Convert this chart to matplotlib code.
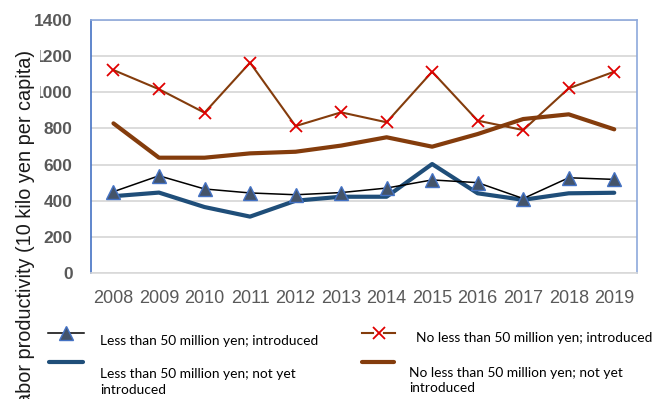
import matplotlib
matplotlib.use("Agg")
import matplotlib.pyplot as plt
from matplotlib.lines import Line2D

years = ["2008", "2009", "2010", "2011", "2012", "2013", "2014", "2015", "2016", "2017", "2018", "2019"]
small_introduced = [450, 538, 465, 443, 433, 445, 470, 515, 500, 412, 527, 518]
small_not_yet = [425, 445, 365, 312, 400, 422, 422, 603, 441, 405, 441, 444]
large_introduced = [1123, 1017, 887, 1164, 813, 889, 834, 1114, 843, 791, 1022, 1114]
large_not_yet = [828, 638, 638, 662, 671, 705, 751, 699, 769, 852, 878, 795]
yticks = [0, 200, 400, 600, 800, 1000, 1200, 1400]
labels = ["Less than 50 million yen; introduced",
          "Less than 50 million yen; not yet\nintroduced",
          "No less than 50 million yen; introduced",
          "No less than 50 million yen; not yet\nintroduced"]

W, H = 656, 399
fig = plt.figure(figsize=(W / 100, H / 100), dpi=100)
ax = fig.add_axes([90.7 / W, 1 - 273 / H, (637 - 90.7) / W, (273 - 20) / H])

x = list(range(len(years)))
BLUE = "#1F4E79"
BROWN = "#843C0C"
RED = "#E00000"

ax.plot(x, small_not_yet, color=BLUE, lw=3.0, solid_capstyle="round", zorder=3)
ax.plot(x, large_not_yet, color=BROWN, lw=3.0, solid_capstyle="round", zorder=3)
ax.plot(x, large_introduced, color=BROWN, lw=1.5, zorder=4)
ax.plot(x, large_introduced, ls="none", marker="x", ms=9, mew=1.3, color=RED, zorder=5)
ax.plot(x, small_introduced, color="black", lw=1.1, zorder=4)
ax.plot(x, small_introduced, ls="none", marker="^", ms=10, mfc="#44546A", mec="#4472C4", mew=1.0, zorder=5)

ax.set_xlim(-0.5, len(years) - 0.5)
ax.set_ylim(0, 1400)
ax.set_yticks(yticks)
ax.set_xticks(x)
ax.set_xticklabels(years)
ax.yaxis.grid(True, color="#D9D9D9", lw=1.3)
ax.set_axisbelow(True)
ax.tick_params(length=0)
ax.tick_params(axis="x", pad=12, labelsize=13, labelcolor="#595959")
ax.tick_params(axis="y", pad=13, labelsize=12.5, labelcolor="#595959")
for t in ax.get_xticklabels():
    t.set_fontfamily("Liberation Sans")
for t in ax.get_yticklabels():
    t.set_fontfamily("Liberation Sans")
    t.set_fontweight("bold")
ax.spines["left"].set_color("#4472C4")
ax.spines["top"].set_color("#8EA9DB")
ax.spines["right"].set_color("#8EA9DB")
ax.spines["bottom"].set_color("#D9D9D9")
for s in ax.spines.values():
    s.set_linewidth(1.2)

# y label
fig.text(26 / W, 1 - 50 / H, "Labor productivity (10 kilo yen per capita)", rotation=90,
         ha="center", va="top", fontsize=14.3, family="Liberation Sans", color="#1a1a1a",
         bbox=dict(facecolor="white", edgecolor="none", pad=3))

# legend drawn in pixel space overlay
ov = fig.add_axes([0, 0, 1, 1], zorder=10)
ov.set_xlim(0, W)
ov.set_ylim(H, 0)
ov.axis("off")
ov.patch.set_alpha(0)
lf = dict(family="Lato", fontsize=9.95, color="black")
# entry 1
ov.add_line(Line2D([48, 84], [333, 333], color="black", lw=1.1))
ov.add_line(Line2D([66], [333], marker="^", ms=10, mfc="#44546A", mec="#4472C4", mew=1.0))
ov.text(100, 341, labels[0], va="center", ha="left", **lf)
# entry 2
ov.add_line(Line2D([49, 83], [362, 362], color=BLUE, lw=3.0, solid_capstyle="round"))
ov.text(100, 382, labels[1], va="center", ha="left", linespacing=1.3, **lf)
# entry 3
ov.add_line(Line2D([362, 373], [333, 333], color=BROWN, lw=1.5))
ov.add_line(Line2D([384, 395], [333, 333], color=BROWN, lw=1.5))
ov.add_line(Line2D([378.5], [333], marker="x", ms=9, mew=1.3, color=RED))
ov.text(416, 338, labels[2], va="center", ha="left", **lf)
# entry 4
ov.add_line(Line2D([362, 394], [362, 362], color=BROWN, lw=3.0, solid_capstyle="round"))
ov.text(409, 380.5, labels[3], va="center", ha="left", linespacing=1.3, **lf)

fig.savefig("out.png", dpi=100)
